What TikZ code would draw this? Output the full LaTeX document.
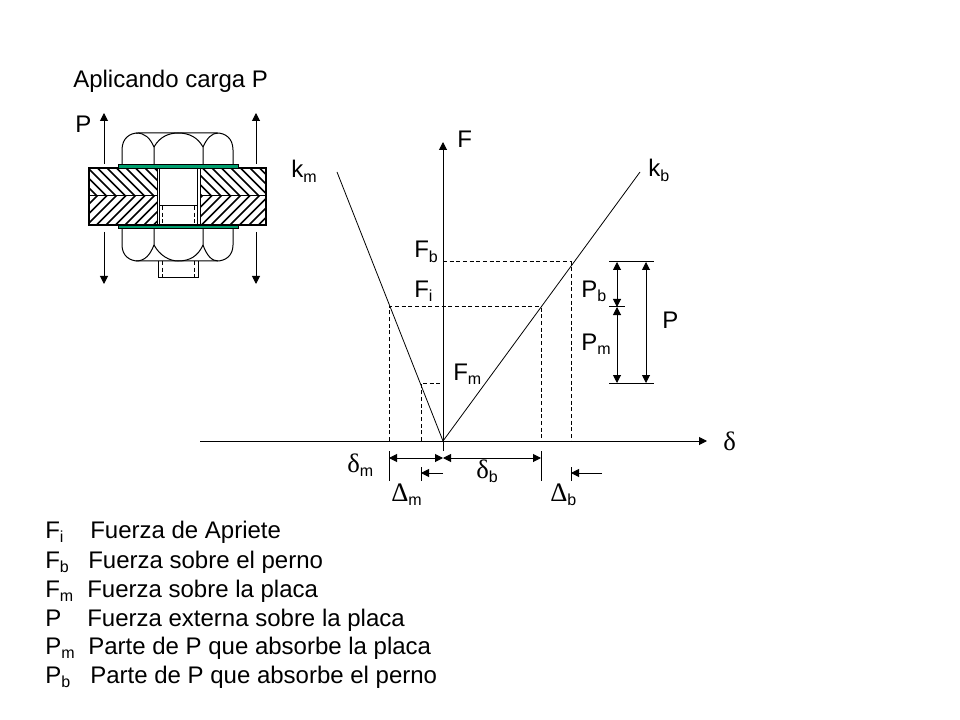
\documentclass[tikz,border=0pt]{standalone}
\usepackage{fontspec}
\setmainfont{Liberation Sans}
\newfontfamily\symf{Liberation Serif}
\newcommand{\mainsz}{\fontsize{18pt}{20pt}\selectfont}
\newcommand{\lbl}[2]{{\mainsz #1}\raisebox{-3.5pt}{\fontsize{12pt}{13pt}\selectfont #2}}
\newcommand{\gk}[2]{{\fontsize{20pt}{21pt}\selectfont\symf #1}\raisebox{-3.5pt}{\fontsize{12pt}{13pt}\selectfont #2}}
\newcommand{\legendline}[3]{\makebox[#1][l]{#2}{\mainsz #3}}
\usetikzlibrary{arrows.meta}
\definecolor{washer}{RGB}{0,158,110}
\tikzset{
 px/.style={x=0.75pt,y=-0.75pt},
 thick1/.style={line width=.75pt,black},
 arr/.style={line width=.75pt,-{Triangle[length=6pt,width=6pt]}},
 darr/.style={line width=.75pt,{Triangle[length=6pt,width=6pt]}-{Triangle[length=6pt,width=6pt]}},
 dash1/.style={line width=.75pt,dash pattern=on 3pt off 2pt},
 txt/.style={inner sep=0pt,anchor=base west},
 hatch/.style={line width=1.1pt},
}
\begin{document}
\begin{tikzpicture}[px]
\useasboundingbox (0,0) rectangle (960,720);
\fill[white] (0,0) rectangle (960,720);
% bolt head and nut
\draw[thick1] (122,164) -- (122,150) .. controls (122,138) and (130,133) .. (138,133) -- (217,133) .. controls (225,133) and (233,138) .. (233,150) -- (233,164);
\draw[thick1] (154,164) -- (154,147) .. controls (150,138) and (145,133) .. (136,133);
\draw[thick1] (154,147) .. controls (160,136) and (170,133) .. (178,133) .. controls (190,133) and (198,138) .. (203,147) -- (203,164);
\draw[thick1] (203,147) .. controls (207,138) and (212,133) .. (218,133);
\draw[thick1] (122,228) -- (122,245) .. controls (122,256) and (130,261) .. (138,261) -- (217,261) .. controls (225,261) and (233,256) .. (233,245) -- (233,228);
\draw[thick1] (154,228) -- (154,245) .. controls (150,255) and (145,261) .. (136,261);
\draw[thick1] (154,245) .. controls (160,256) and (170,261) .. (178,261) .. controls (190,261) and (198,256) .. (203,245) -- (203,228);
\draw[thick1] (203,245) .. controls (207,256) and (212,261) .. (218,261);
% stud end
\draw[thick1] (158,261) -- (158,278) -- (198,278) -- (198,261);
\draw[dash1] (162,261) -- (162,278) (194,261) -- (194,278);
% plates with hatching
\begin{scope}
\clip (89,168) rectangle (157,196);
\foreach \i in {0,...,13} \draw[hatch] ({61+\i*9.5},160) -- ++(44,44);
\end{scope}
\begin{scope}
\clip (200,168) rectangle (266,196);
\foreach \i in {0,...,12} \draw[hatch] ({166+\i*9.5},160) -- ++(44,44);
\end{scope}
\begin{scope}
\clip (89,196) rectangle (157,225);
\foreach \i in {0,...,13} \draw[hatch] ({61+\i*9.5},232) -- ++(44,-44);
\end{scope}
\begin{scope}
\clip (200,196) rectangle (266,225);
\foreach \i in {0,...,12} \draw[hatch] ({166+\i*9.5},232) -- ++(44,-44);
\end{scope}
\draw[line width=1pt] (89,168) rectangle (266,225);
\draw[thick1] (89,196) -- (157,196) (200,196) -- (266,196);
\draw[thick1] (157,168) -- (157,225) (200,168) -- (200,225);
\draw[thick1] (159.5,168) -- (159.5,225) (197.5,168) -- (197.5,225);
\draw[thick1] (159.5,206) -- (197.5,206);
\draw[dash1] (162,206) -- (162,225) (194,206) -- (194,225);
% washers
\draw[line width=.6pt,fill=washer] (118,164) rectangle (238,168);
\draw[line width=.6pt,fill=washer] (118,225) rectangle (238,228.5);
% load arrows
\coordinate (au1) at (104,164); \coordinate (au2) at (104,113);
\coordinate (bu1) at (256,164); \coordinate (bu2) at (256,113);
\coordinate (ad1) at (104,232); \coordinate (ad2) at (104,284);
\coordinate (bd1) at (256,232); \coordinate (bd2) at (256,284);
\draw[arr] (au1) -- (au2); \draw[arr] (bu1) -- (bu2);
\draw[arr] (ad1) -- (ad2); \draw[arr] (bd1) -- (bd2);
% axes
\coordinate (O) at (443,441);
\coordinate (Fbase) at (443,451);
\coordinate (Ftop) at (443,142);
\coordinate (dl) at (200,441);
\coordinate (dr) at (707,441);
\draw[arr] (Fbase) -- (Ftop);
\draw[arr] (dl) -- (dr);
\coordinate (km) at (337,172);
\coordinate (kb) at (640,172);
\draw[line width=.6pt] (O) -- (km);
\draw[line width=.6pt] (O) -- (kb);
% dashed
\draw[dash1] (443,262) -- (571,262) -- (571,441);
\draw[dash1] (389,441) -- (389,307) -- (541,307) -- (541,441);
\draw[dash1] (421,441) -- (421,383) -- (443,383);
% dimensions
\draw[thick1] (389,451) -- (389,481) (541,451) -- (541,481);
\draw[thick1] (421,467) -- (421,481) (571,467) -- (571,481);
\coordinate (m1) at (389,458); \coordinate (m2) at (443,458); \coordinate (m3) at (541,458);
\draw[darr] (m1) -- (m2);
\draw[darr] (m2) -- (m3);
\coordinate (d1) at (443,473); \coordinate (d2) at (421,473);
\coordinate (d3) at (602,473); \coordinate (d4) at (571,473);
\draw[arr] (d1) -- (d2);
\draw[arr] (d3) -- (d4);
% P dimensions
\draw[thick1] (609,262) -- (654,262) (609,383) -- (654,383) (609,307) -- (625,307);
\coordinate (p1) at (617,262); \coordinate (p2) at (617,307); \coordinate (p3) at (617,383);
\coordinate (q1) at (646,262); \coordinate (q2) at (646,383);
\draw[darr] (p1) -- (p2);
\draw[darr] (p2) -- (p3);
\draw[darr] (q1) -- (q2);
% labels
\node[txt] (t0) at (73,88) {\mainsz Aplicando carga P};
\node[txt] (t1) at (75,133) {\mainsz P};
\node[txt] (t2) at (457,148) {\mainsz F};
\node[txt] (t3) at (291,178) {\lbl{k}{m}};
\node[txt] (t4) at (648,177) {\lbl{k}{b}};
\node[txt] (t5) at (414,258) {\lbl{F}{b}};
\node[txt] (t6) at (414,297) {\lbl{F}{i}};
\node[txt] (t7) at (581,297) {\lbl{P}{b}};
\node[txt] (t8) at (581,350) {\lbl{P}{m}};
\node[txt] (t9) at (662,328) {\mainsz P};
\node[txt] (t10) at (453,380) {\lbl{F}{m}};
\node[txt] (t11) at (723,450) {\fontsize{20pt}{21pt}\selectfont\symf δ};
\node[txt] (t12) at (347,472) {\gk{δ}{m}};
\node[txt] (t13) at (476,478) {\gk{δ}{b}};
\node[txt] (t14) at (391,501) {\gk{Δ}{m}};
\node[txt] (t15) at (550,501) {\gk{Δ}{b}};
\node[txt] (l1) at (45,538) {\legendline{33.75pt}{\lbl{F}{i}}{Fuerza de Apriete}};
\node[txt] (l2) at (45,568) {\legendline{32.25pt}{\lbl{F}{b}}{Fuerza sobre el perno}};
\node[txt] (l3) at (45,597) {\legendline{31.5pt}{\lbl{F}{m}}{Fuerza sobre la placa}};
\node[txt] (l4) at (45,626) {\legendline{31.5pt}{\mainsz P}{Fuerza externa sobre la placa}};
\node[txt] (l5) at (45,654) {\legendline{32.25pt}{\lbl{P}{m}}{Parte de P que absorbe la placa}};
\node[txt] (l6) at (45,683) {\legendline{33.75pt}{\lbl{P}{b}}{Parte de P que absorbe el perno}};
\end{tikzpicture}
\end{document}
